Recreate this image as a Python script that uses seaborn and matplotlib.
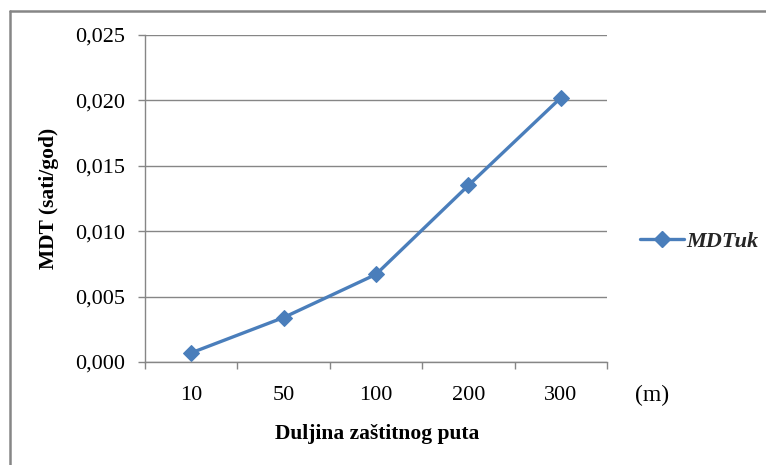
import matplotlib
matplotlib.use("Agg")
import matplotlib.pyplot as plt
from matplotlib.lines import Line2D
from matplotlib.ticker import FixedLocator, FuncFormatter
import seaborn as sns
import pandas as pd

# Data
lengths = ["10", "50", "100", "200", "300"]
mdt_uk = [0.0007, 0.0034, 0.0067, 0.0135, 0.0202]
series_name = "MDTuk"
y_ticks = [0.000, 0.005, 0.010, 0.015, 0.020, 0.025]

df = pd.DataFrame({"length": lengths, "mdt": mdt_uk})

sns.set_theme(style="white")
plt.rcParams["font.family"] = ["Liberation Serif", "DejaVu Serif"]

grid_col = "#868686"
line_col = "#4A7EBB"
fs_tick = 16
fs_label = 15.5

fig = plt.figure(figsize=(7.66, 4.65), dpi=100)
ax = fig.add_axes([0.1893, 0.2215, 0.6031, 0.7032])

sns.lineplot(data=df, x="length", y="mdt", ax=ax, color=line_col,
             linewidth=2.4, marker="D", markersize=8.5,
             markeredgecolor=line_col, markerfacecolor=line_col,
             sort=False, label=series_name, legend=False)

ax.set_xlim(-0.5, len(lengths) - 0.5)
ax.set_ylim(0, 0.025)

# Horizontal gridlines
ax.yaxis.set_major_locator(FixedLocator(y_ticks))
ax.yaxis.set_major_formatter(FuncFormatter(lambda v, p: f"{v:.3f}".replace(".", ",")))
ax.grid(axis="y", color=grid_col, linewidth=1.0)
ax.grid(axis="x", visible=False)

for side in ["top", "right"]:
    ax.spines[side].set_visible(False)
for side in ["left", "bottom"]:
    ax.spines[side].set_color(grid_col)
    ax.spines[side].set_linewidth(1.0)

# Category labels centred, tick marks on category boundaries
ax.set_xticks(range(len(lengths)))
ax.set_xticklabels(lengths)
ax.set_xticks([i - 0.5 for i in range(len(lengths) + 1)], minor=True)
ax.tick_params(axis="x", which="major", length=0, pad=17, labelsize=fs_tick, labelcolor="black")
ax.tick_params(axis="x", which="minor", length=5, width=1, color=grid_col, direction="out", bottom=True)
ax.tick_params(axis="y", which="major", length=5, width=1, color=grid_col, direction="out",
               left=True, pad=9.4, labelsize=fs_tick, labelcolor="black")

ax.set_xlabel("Duljina zaštitnog puta", fontsize=fs_label, fontweight="bold", color="black")
ax.set_ylabel("MDT (sati/god)", fontsize=fs_label, fontweight="bold", color="black")
ax.xaxis.set_label_coords(0.502, -0.19)
ax.yaxis.set_label_coords(-0.187, 0.5)

fig.text(652 / 766, 1 - 395 / 465, "(m)", fontsize=17, ha="center", va="center", color="black")

handle = Line2D([], [], color=line_col, linewidth=2.4, marker="D", markersize=8)
fig.legend([handle], [series_name], loc="center left",
           bbox_to_anchor=(640 / 766, 1 - 242 / 465), frameon=False,
           prop={"size": fs_tick, "weight": "bold", "style": "italic"},
           handlelength=2.0, handletextpad=0.1, borderaxespad=0, borderpad=0)

# Frame around the chart area
fig.add_artist(Line2D([10 / 766, 10 / 766], [0, 1 - 11 / 465], transform=fig.transFigure,
                      color=grid_col, linewidth=1.8))
fig.add_artist(Line2D([10 / 766, 1], [1 - 11 / 465, 1 - 11 / 465], transform=fig.transFigure,
                      color=grid_col, linewidth=1.8))

fig.savefig("out.png", dpi=100)
